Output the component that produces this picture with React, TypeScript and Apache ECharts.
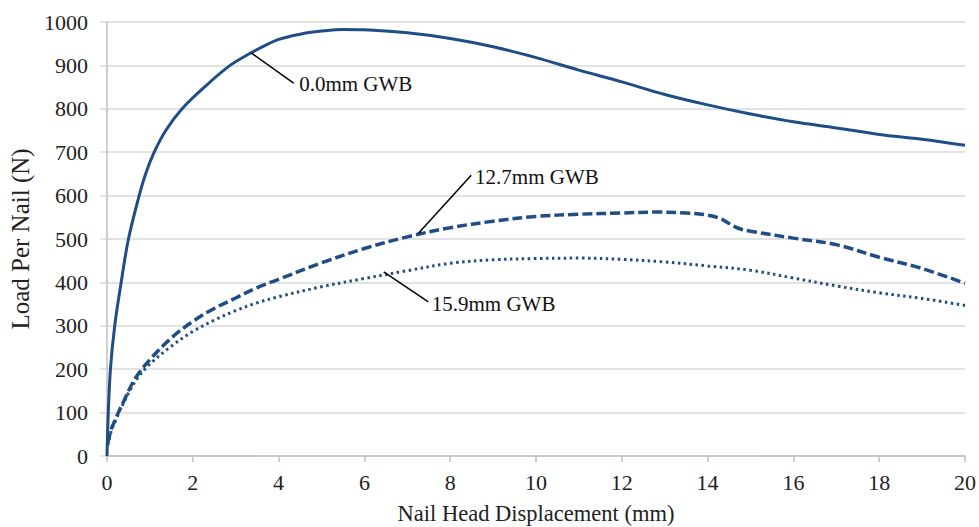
import React, { useEffect, useRef } from "react";
import * as echarts from "echarts";

const xTicks = { min: 0, max: 20, interval: 2 };
const yTicks = { min: 0, max: 1000, interval: 100 };

const gwb00: [number, number][] = [
  [0, 0], [0.03, 100], [0.08, 200], [0.18, 300], [0.33, 400], [0.5, 500], [0.75, 600],
  [0.9, 650], [1.1, 700], [1.37, 750], [1.75, 800], [2.27, 850], [2.87, 900],
  [3.36, 929], [3.61, 942], [4, 960], [4.5, 972], [5, 979], [5.5, 983], [6, 982], [7, 975],
  [8, 962], [9, 943], [10, 918], [11, 889], [12, 862], [13, 833], [14, 809],
  [15, 788], [16, 770], [17, 756], [18, 741], [19, 730], [20, 716],
];

const gwb127: [number, number][] = [
  [0.02, 30], [0.1, 62], [0.2, 85], [0.3, 108], [0.4, 128], [0.5, 150], [0.7, 185],
  [1, 222], [1.5, 272], [2, 310], [2.5, 340], [3, 364], [3.5, 388], [4, 407],
  [5, 445], [6, 478], [7, 505], [8, 526], [9, 541], [10, 552], [11, 557], [12, 560],
  [12.8, 562], [13.5, 560], [14, 555], [14.3, 547], [14.6, 530], [14.8, 522],
  [15, 518], [16, 502], [17, 487], [18, 458], [19, 432], [20, 398],
];

const gwb159: [number, number][] = [
  [0.02, 25], [0.1, 58], [0.2, 82], [0.3, 105], [0.4, 125], [0.5, 145], [0.7, 178],
  [1, 212], [1.5, 253], [2, 287], [2.5, 313], [3, 335], [3.5, 353], [4, 367],
  [5, 390], [6, 409], [7, 427], [8, 444], [9, 452], [10, 455], [11, 456], [12, 453],
  [13, 447], [14, 438], [15, 428], [16, 410], [17, 392], [18, 376], [19, 363], [20, 347],
];

// annotation labels: [text, leader start x, y, leader end x, y, text x, y]
const annotations: [string, number, number, number, number, number, number][] = [
  ["0.0mm GWB", 3.36, 929, 4.35, 859, 4.48, 857],
  ["12.7mm GWB", 7.26, 513, 8.49, 647, 8.58, 643],
  ["15.9mm GWB", 6.45, 424, 7.49, 355, 7.57, 350],
];

const seriesNames = ["0.0mm GWB", "12.7mm GWB", "15.9mm GWB"];

const LINE = "#1f4d86";
const FONT = "Liberation Serif";

export default function App() {
  const ref = useRef<HTMLDivElement>(null);
  useEffect(() => {
    document.body.style.margin = "0";
    const chart = echarts.init(ref.current!, undefined, { renderer: "svg" });
    chart.setOption({
      animation: false,
      backgroundColor: "#ffffff",
      textStyle: { fontFamily: FONT },
      grid: {
        left: 107,
        right: 14,
        top: 22,
        bottom: 71,
        containLabel: false,
        outerBoundsMode: "none",
      },
      xAxis: {
        type: "value",
        min: xTicks.min,
        max: xTicks.max,
        interval: xTicks.interval,
        name: "Nail Head Displacement (mm)",
        nameLocation: "middle",
        nameGap: 46,
        nameTextStyle: { fontFamily: FONT, fontSize: 22.5, color: "#222" },
        axisLine: { show: true, lineStyle: { color: "#bfbfbf", width: 1.5 } },
        axisTick: { show: true, length: 6, lineStyle: { color: "#bfbfbf", width: 1.5 } },
        axisLabel: { fontFamily: FONT, fontSize: 22, color: "#222", margin: 15 },
        splitLine: { show: false },
      },
      yAxis: {
        type: "value",
        min: yTicks.min,
        max: yTicks.max,
        interval: yTicks.interval,
        name: "Load Per Nail (N)",
        nameLocation: "middle",
        nameRotate: 90,
        nameGap: 74,
        nameTextStyle: { fontFamily: FONT, fontSize: 25, color: "#222" },
        axisLine: { show: true, lineStyle: { color: "#bfbfbf", width: 1.5 } },
        axisTick: { show: true, length: 7, lineStyle: { color: "#d9d9d9", width: 1.5 } },
        axisLabel: {
          fontFamily: FONT,
          fontSize: 22,
          color: "#222",
          margin: 19,
          formatter: (v: number) => String(v),
        },
        splitLine: { show: true, lineStyle: { color: "#d9d9d9", width: 1.5 } },
      },
      series: [
        {
          name: seriesNames[0],
          type: "line",
          data: gwb00,
          showSymbol: false,
          smooth: 0.35,
          lineStyle: { color: LINE, width: 3 },
          z: 3,
        },
        {
          name: seriesNames[1],
          type: "line",
          data: gwb127,
          showSymbol: false,
          smooth: 0.35,
          lineStyle: { color: LINE, width: 3.5, type: [10, 4] },
          z: 3,
        },
        {
          name: seriesNames[2],
          type: "line",
          data: gwb159,
          showSymbol: false,
          smooth: 0.35,
          lineStyle: { color: LINE, width: 3, type: [2.5, 3.5] },
          z: 3,
        },
      ],
    });
    const graphics: any[] = [];
    annotations.forEach(([text, x1, y1, x2, y2, tx, ty]) => {
      const p1 = chart.convertToPixel({ gridIndex: 0 }, [x1, y1]) as number[];
      const p2 = chart.convertToPixel({ gridIndex: 0 }, [x2, y2]) as number[];
      const pt = chart.convertToPixel({ gridIndex: 0 }, [tx, ty]) as number[];
      graphics.push({
        type: "line",
        shape: { x1: p1[0], y1: p1[1], x2: p2[0], y2: p2[1] },
        style: { stroke: "#000", lineWidth: 1.5 },
        z: 10,
      });
      graphics.push({
        type: "text",
        x: pt[0],
        y: pt[1],
        style: {
          text,
          fontFamily: FONT,
          fontSize: 21,
          fill: "#111",
          align: "left",
          verticalAlign: "middle",
        },
        z: 10,
      });
    });
    chart.setOption({ graphic: graphics });
    return () => chart.dispose();
  }, []);
  return <div ref={ref} style={{ width: 979, height: 527 }} />;
}
